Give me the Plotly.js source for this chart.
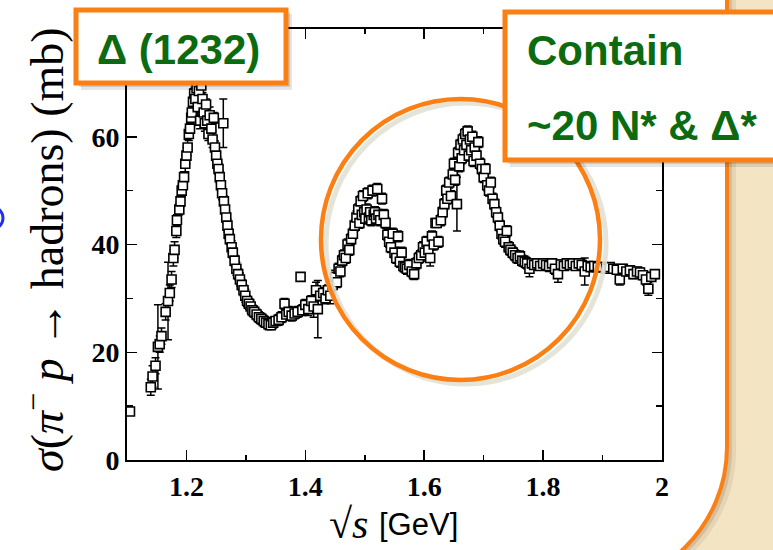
<!DOCTYPE html>
<html>
<head>
<meta charset="utf-8">
<script src="https://cdn.plot.ly/plotly-3.0.1.min.js"></script>
<style>html,body{margin:0;padding:0;background:#f3e4c4;}#chart{width:773px;height:550px;}</style>
</head>
<body>
<div id="chart"></div>
<script>
// sqrt(s) in GeV
const sqrtS = [1.105,1.140,1.143,1.148,1.152,1.155,1.158,1.165,1.169,1.172,1.175,1.178,1.180,1.183,1.184,1.188,1.190,1.192,1.194,1.196,1.198,1.200,1.202,1.204,1.206,1.208,1.209,1.211,1.213,1.215,1.217,1.219,1.221,1.223,1.225,1.227,1.229,1.231,1.233,1.235,1.237,1.239,1.242,1.244,1.246,1.248,1.250,1.252,1.254,1.256,1.258,1.260,1.262,1.263,1.265,1.267,1.269,1.271,1.273,1.276,1.278,1.281,1.284,1.287,1.290,1.293,1.296,1.299,1.302,1.305,1.308,1.311,1.314,1.318,1.322,1.326,1.330,1.334,1.338,1.342,1.346,1.350,1.355,1.360,1.365,1.368,1.372,1.377,1.382,1.387,1.392,1.395,1.400,1.405,1.410,1.414,1.418,1.421,1.425,1.430,1.434,1.438,1.442,
1.446,1.450,1.453,1.456,1.459,1.462,1.465,1.468,1.471,1.474,1.477,1.480,1.483,1.486,1.489,1.491,1.493,1.495,1.497,1.499,1.501,1.503,1.505,1.507,1.509,1.511,1.513,1.515,1.517,1.519,1.521,1.523,1.526,1.529,1.532,1.535,1.538,1.541,1.544,1.547,1.550,1.553,1.556,1.559,1.562,1.565,1.568,1.571,1.575,1.579,1.583,1.587,1.591,1.595,1.598,1.601,1.604,1.607,1.610,1.613,1.616,1.619,1.621,1.624,
1.628,1.631,1.634,1.637,1.639,1.642,1.645,1.648,1.650,1.652,1.655,1.657,1.659,1.661,1.663,1.665,1.667,1.669,1.671,1.673,1.675,1.677,1.679,1.681,1.683,1.685,1.688,1.691,1.694,1.697,1.700,1.703,1.706,1.709,1.712,1.715,1.718,1.721,1.724,1.727,1.730,1.733,1.736,1.739,1.742,1.745,1.749,1.753,1.757,1.761,1.765,1.769,1.773,1.777,1.781,1.785,1.790,1.795,1.800,1.805,1.810,1.815,1.820,1.825,1.830,1.835,1.840,1.845,1.850,1.855,1.860,1.865,1.870,1.875,1.880,1.886,1.892,1.900,1.906,1.912,1.918,1.924,1.929,1.934,1.940,1.946,1.952,1.958,1.963,1.968,1.973,1.977,1.982,1.988];
// cross section in mb
const sigma = [9.0,13.5,15.5,17.5,21.0,21.5,23.0,27.5,29.5,31.0,33.5,37.5,39.0,42.5,44.5,46.5,48.0,50.0,51.0,52.5,55.0,56.5,58.0,60.5,61.5,63.5,64.5,66.5,68.0,67.0,69.0,65.5,68.5,63.0,69.5,67.0,64.5,62.5,66.0,63.0,60.5,64.0,61.5,59.5,63.5,58.0,56.5,55.0,54.0,52.5,51.0,49.5,62.5,48.0,46.5,45.0,43.5,42.0,41.0,39.5,38.5,37.0,35.5,34.5,33.5,32.5,31.5,30.5,29.5,29.0,28.5,27.8,27.5,27.0,26.5,26.2,25.8,25.5,25.2,25.0,25.5,25.8,26.0,26.5,29.0,27.0,27.5,26.8,27.2,27.5,34.0,27.8,28.8,28.0,29.5,28.5,31.5,28.0,30.5,31.0,30.0,31.5,30.5,
32.5,34.0,33.0,35.5,35.0,37.0,38.0,37.5,40.0,39.0,41.0,42.0,43.5,45.0,46.5,44.0,48.0,45.5,49.0,46.0,44.8,46.5,49.5,45.0,46.0,44.5,50.0,45.5,46.0,44.8,50.3,45.5,44.5,48.5,45.5,44.0,41.8,40.5,39.5,42.0,38.5,37.5,41.5,36.8,38.5,36.0,35.8,35.5,36.2,35.0,34.5,36.5,37.5,38.0,39.5,38.5,40.5,39.0,37.5,41.5,40.0,44.0,44.0,40.5,
44.5,46.0,47.5,50.0,48.5,51.5,49.0,53.0,55.0,52.0,47.5,57.0,54.5,58.5,56.0,59.5,57.5,60.5,58.5,61.0,56.5,59.5,57.5,60.0,55.5,58.0,56.5,59.0,55.0,54.0,52.5,54.0,51.0,50.0,51.5,48.5,47.5,46.0,45.0,43.5,42.0,41.0,40.5,42.5,39.5,39.0,38.5,38.0,37.5,37.8,37.0,36.8,36.5,35.5,36.5,36.2,36.5,36.0,36.5,36.2,36.0,36.5,35.5,34.5,36.3,36.0,36.5,36.2,36.5,36.0,36.5,36.2,35.0,36.0,35.8,36.0,35.8,35.8,35.5,35.8,35.5,35.3,33.5,35.5,35.0,35.2,34.5,35.0,34.8,34.3,33.5,31.8,34.0,34.5];
// error bars in mb
const sigmaErr = [0.5,1.5,2.0,1.5,7.8,1.5,1.5,1.5,7.2,1.5,1.5,1.5,1.5,1.2,1.0,1.0,1.0,1.2,1.0,1.0,1.5,1.5,1.5,1.2,1.0,1.5,1.0,1.5,1.0,1.2,1.0,1.5,1.0,1.5,1.5,1.2,1.5,1.5,1.0,1.5,1.2,1.5,1.0,1.5,1.0,1.2,1.0,1.2,1.0,1.2,1.0,1.2,4.5,1.0,1.2,1.0,1.2,1.0,1.0,1.2,1.0,1.0,1.2,1.0,1.2,1.0,1.0,1.2,1.0,1.0,1.2,1.0,1.0,1.0,1.0,1.0,1.0,0.8,1.0,0.8,1.0,0.8,1.0,1.0,1.0,1.0,1.0,1.0,1.0,1.0,0.5,1.0,1.0,1.2,1.0,2.0,1.5,5.3,1.0,1.0,1.0,1.0,1.5,
1.0,1.2,1.0,1.0,1.0,1.0,1.0,1.0,1.0,1.0,1.0,1.0,1.0,1.2,1.0,1.0,1.0,1.0,1.0,1.0,1.0,1.0,1.0,1.0,1.0,1.0,1.0,1.0,1.0,1.0,1.0,1.0,1.0,1.0,1.0,1.0,1.0,1.0,1.0,1.0,1.0,1.0,1.0,1.0,1.0,1.0,1.0,1.0,1.0,1.0,1.0,1.0,1.0,1.0,1.0,1.5,1.0,1.0,1.5,1.0,1.0,0.5,0.5,1.0,
1.0,1.0,1.0,1.0,1.0,1.0,1.0,1.0,1.0,1.0,5.0,1.0,1.0,1.0,1.0,1.0,1.0,1.0,1.0,1.0,1.0,1.0,1.0,1.0,1.0,1.0,1.0,1.0,1.0,1.0,1.0,1.0,1.0,1.0,1.0,1.0,1.0,1.0,1.0,1.0,1.0,1.0,1.0,1.0,1.0,1.0,1.0,1.0,1.0,1.0,1.0,1.0,1.0,1.5,0.8,1.0,0.8,0.8,0.8,0.8,1.0,0.8,1.0,1.5,0.8,0.8,0.8,0.8,0.8,0.8,0.8,0.8,2.5,0.8,0.8,0.8,0.8,0.8,0.8,0.8,0.8,0.8,1.0,0.8,0.8,0.8,0.8,0.8,0.8,0.8,1.0,1.2,0.8,0.8];

const xTickVals = [1.2,1.4,1.6,1.8,2];
const xTickText = ['1.2','1.4','1.6','1.8','2'];
const yTickVals = [0,20,40,60];
const yTickText = ['0','20','40','60'];

// plot-area pixel frame (for decorations)
const L=127, R=662, T=29, B=460;
const px = v => (v - L) / (R - L);
const py = v => (B - v) / (B - T);
function cub(a) {
  return 'C ' + a.map(([x,y]) => px(x).toFixed(4)+','+py(y).toFixed(4)).join(' ');
}
const ORANGE = '#fb7f12';
const GREEN = '#0c6a10';

const panelPath = (dx, dy) =>
  'M ' + px(-30+dx).toFixed(4) + ',' + py(-30+dy).toFixed(4) +
  ' L ' + px(727+dx).toFixed(4) + ',' + py(-30+dy).toFixed(4) +
  ' L ' + px(727+dx).toFixed(4) + ',' + py(447+dy).toFixed(4) + ' ' +
  cub([[727+dx,525+dy],[663+dx,589+dy],[585+dx,589+dy]]) +
  ' L ' + px(-30+dx).toFixed(4) + ',' + py(589+dy).toFixed(4) + ' Z';

const rect = (x0,y0,x1,y1, extra) => Object.assign({type:'rect', xref:'paper', yref:'paper', x0:px(x0), x1:px(x1), y0:py(y1), y1:py(y0)}, extra);
const circ = (x0,y0,x1,y1, extra) => Object.assign({type:'circle', xref:'paper', yref:'paper', x0:px(x0), x1:px(x1), y0:py(y1), y1:py(y0)}, extra);

const shapes = [
  {type:'path', xref:'paper', yref:'paper', layer:'below', path: panelPath(9,4), fillcolor:'rgba(110,85,50,0.10)', line:{width:0}},
  {type:'path', xref:'paper', yref:'paper', layer:'below', path: panelPath(5,2), fillcolor:'rgba(110,85,50,0.18)', line:{width:0}},
  {type:'path', xref:'paper', yref:'paper', layer:'below', path: panelPath(0,0), fillcolor:'white', line:{color:ORANGE, width:4}},
  // highlight circle with soft shadow
  circ(326,103,606,384, {layer:'above', line:{color:'rgba(225,225,212,0.9)', width:5}}),
  circ(321,99,600,380, {layer:'above', line:{color:ORANGE, width:4.5}}),
  // blue mark at left edge
  circ(-40,203,3,233, {layer:'above', line:{color:'#1f2ff0', width:3}}),
  // box shadows
  rect(81,14,292,90, {layer:'above', fillcolor:'rgba(0,0,0,0.10)', line:{width:0}}),
  rect(79,12,290,87, {layer:'above', fillcolor:'rgba(0,0,0,0.12)', line:{width:0}}),
  rect(510,16,800,167, {layer:'above', fillcolor:'rgba(0,0,0,0.10)', line:{width:0}}),
  rect(508,14,800,164, {layer:'above', fillcolor:'rgba(0,0,0,0.12)', line:{width:0}}),
  // boxes
  rect(76,10,286,83, {layer:'above', fillcolor:'white', line:{color:ORANGE, width:5}}),
  rect(505,12,800,160, {layer:'above', fillcolor:'white', line:{color:ORANGE, width:5}})
];

const annotations = [
  {xref:'paper', yref:'paper', x:px(44), y:py(250), textangle:-90, showarrow:false, xanchor:'center', yanchor:'middle',
   text:'<i>σ</i>(<i>π</i><sup>−</sup> <i>p</i> → hadrons) (mb)', font:{family:'Liberation Serif', size:46, color:'black'}},
  {xref:'paper', yref:'paper', x:px(370), y:py(524), showarrow:false, xanchor:'right', yanchor:'middle',
   text:'√<i>s</i>', font:{family:'Liberation Serif', size:42, color:'black'}},
  {xref:'paper', yref:'paper', x:px(377), y:py(524), showarrow:false, xanchor:'left', yanchor:'middle',
   text:'[GeV]', font:{family:'Liberation Sans', size:31, color:'black'}},
  {xref:'paper', yref:'paper', x:px(178), y:py(49), showarrow:false, xanchor:'center', yanchor:'middle',
   text:'<b>Δ (1232)</b>', font:{family:'Liberation Sans', size:42, color:GREEN}},
  {xref:'paper', yref:'paper', x:px(525), y:py(50), showarrow:false, xanchor:'left', yanchor:'middle',
   text:'<b>Contain</b>', font:{family:'Liberation Sans', size:42, color:GREEN}},
  {xref:'paper', yref:'paper', x:px(525), y:py(126), showarrow:false, xanchor:'left', yanchor:'middle',
   text:'<b>~20 N* &amp; Δ*</b>', font:{family:'Liberation Sans', size:42, color:GREEN}}
];

const trace = {
  x: sqrtS, y: sigma, type:'scatter', mode:'markers',
  marker:{symbol:'square', size:9, color:'white', line:{color:'black', width:1.6}},
  error_y:{type:'data', array:sigmaErr, visible:true, color:'black', thickness:1.5, width:4},
  cliponaxis:true, showlegend:false, hoverinfo:'skip'
};

const axisCommon = {
  showgrid:false, zeroline:false, showline:true, linecolor:'black', linewidth:2, mirror:'allticks',
  ticks:'inside', tickcolor:'black', tickwidth:1.5, ticklen:10,
  tickfont:{family:'Liberation Serif', size:28, color:'black', weight:'bold'}
};

const layout = {
  width:773, height:550,
  margin:{l:L, r:773-R, t:T, b:550-B, pad:0},
  paper_bgcolor:'#f3e4c4', plot_bgcolor:'rgba(0,0,0,0)',
  xaxis: Object.assign({}, axisCommon, {range:[1.1,2.0], tickmode:'array', tickvals:xTickVals, ticktext:xTickText,
    minor:{tickmode:'linear', tick0:1.1, dtick:0.1, ticks:'inside', ticklen:5, tickcolor:'black', tickwidth:1.5}}),
  yaxis: Object.assign({}, axisCommon, {range:[0,80], tickmode:'array', tickvals:yTickVals, ticktext:yTickText,
    minor:{tickmode:'linear', tick0:0, dtick:10, ticks:'inside', ticklen:6, tickcolor:'black', tickwidth:1.5}}),
  shapes: shapes,
  annotations: annotations,
  showlegend:false
};

Plotly.newPlot('chart', [trace], layout, {displayModeBar:false, staticPlot:true});
</script>
</body>
</html>
